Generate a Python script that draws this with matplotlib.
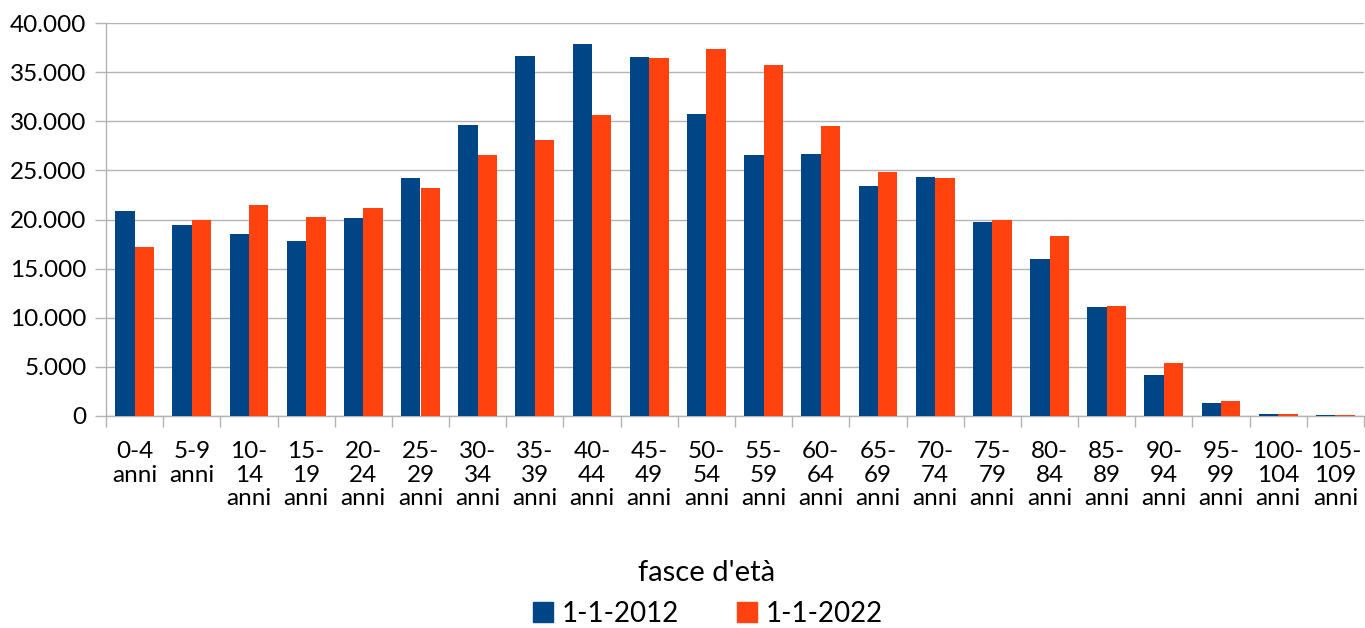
import matplotlib.pyplot as plt
import numpy as np
from matplotlib.patches import Patch
from matplotlib.ticker import FuncFormatter, MultipleLocator

plt.rcParams['font.family'] = ['Lato', 'DejaVu Sans']

# fasce d'età
categories = ['0-4\nanni', '5-9\nanni', '10-\n14\nanni', '15-\n19\nanni', '20-\n24\nanni',
              '25-\n29\nanni', '30-\n34\nanni', '35-\n39\nanni', '40-\n44\nanni', '45-\n49\nanni',
              '50-\n54\nanni', '55-\n59\nanni', '60-\n64\nanni', '65-\n69\nanni', '70-\n74\nanni',
              '75-\n79\nanni', '80-\n84\nanni', '85-\n89\nanni', '90-\n94\nanni', '95-\n99\nanni',
              '100-\n104\nanni', '105-\n109\nanni']

pop_2012 = [20900, 19390, 18570, 17860, 20200, 24270, 29660, 36680, 37900, 36580, 30780,
            26610, 26710, 23450, 24370, 19700, 16030, 11050, 4130, 1290, 200, 90]
pop_2022 = [17250, 19900, 21520, 20300, 21220, 23250, 26610, 28140, 30680, 36470, 37390,
            35760, 29560, 24880, 24270, 19900, 18270, 11150, 5350, 1490, 190, 90]

series_labels = ['1-1-2012', '1-1-2022']
colors = ['#004586', '#ff420e']

fig = plt.figure(figsize=(13.65, 6.28), dpi=100)
ax = fig.add_axes([106 / 1365, 212 / 628, 1258 / 1365, 393 / 628])

x = np.arange(len(categories))
w = 0.34
ax.bar(x - w / 2, pop_2012, width=w, color=colors[0], zorder=3)
ax.bar(x + w / 2, pop_2022, width=w, color=colors[1], zorder=3)

ax.set_xlim(-0.5, len(categories) - 0.5)
ax.set_ylim(0, 40000)
ax.yaxis.set_major_locator(MultipleLocator(5000))
ax.yaxis.set_major_formatter(FuncFormatter(lambda v, p: f'{int(v):,}'.replace(',', '.')))
ax.grid(axis='y', color='#b3b3b3', linewidth=1.0, zorder=0)

ax.set_xticks(x)
ax.set_xticklabels(categories, linespacing=1.15)
ax.set_xticks(np.arange(-0.5, len(categories)), minor=True)
ax.tick_params(axis='x', which='major', length=0, pad=18, labelsize=17.5)
ax.tick_params(axis='x', which='minor', length=8, color='#b3b3b3', width=1.0)
ax.tick_params(axis='y', length=8, color='#b3b3b3', width=1.0, pad=6, labelsize=17.5)

for s in ['top', 'right']:
    ax.spines[s].set_visible(False)
for s in ['left', 'bottom']:
    ax.spines[s].set_color('#b3b3b3')
    ax.spines[s].set_linewidth(1.0)

fig.text(707 / 1365, 1 - 573 / 628, "fasce d'età", ha='center', va='center', fontsize=21)

handles = [Patch(color=c, label=l) for c, l in zip(colors, series_labels)]
fig.legend(handles=handles, loc='center', bbox_to_anchor=(708 / 1365, 1 - 614 / 628), ncol=2,
           frameon=False, fontsize=20, handlelength=0.72, handleheight=0.72,
           handletextpad=0.3, columnspacing=2.1)

fig.savefig('out.png', dpi=100)
